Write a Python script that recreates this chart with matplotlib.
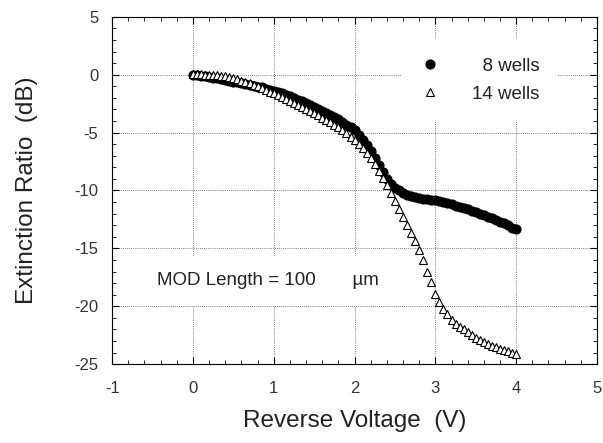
import numpy as np
import matplotlib.pyplot as plt
from matplotlib.ticker import MultipleLocator

plt.rcParams['font.family'] = ['Liberation Sans', 'DejaVu Sans']
plt.rcParams['axes.unicode_minus'] = False

# reverse voltage (V), 0.05 V steps
volts = np.round(np.arange(0, 4.0001, 0.05), 2)

# extinction ratio (dB), 8 wells (filled circles)
er_8 = [0.0, -0.05, -0.1, -0.15, -0.2, -0.25, -0.3, -0.4, -0.45, -0.55,
        -0.6, -0.65, -0.75, -0.8, -0.9, -0.95, -1.05, -1.1, -1.2, -1.3,
        -1.4, -1.5, -1.6, -1.75, -1.85, -2.0, -2.15, -2.3, -2.45, -2.6,
        -2.8, -2.95, -3.1, -3.3, -3.45, -3.65, -3.85, -4.05, -4.3, -4.55,
        -4.8, -5.2, -5.6, -6.1, -6.6, -7.2, -7.8, -8.4, -9.0, -9.4,
        -9.75, -10.0, -10.2, -10.35, -10.45, -10.55, -10.65, -10.7, -10.75, -10.8,
        -10.85, -10.95, -11.0, -11.1, -11.2, -11.3, -11.4, -11.5, -11.6, -11.75,
        -11.85, -12.0, -12.1, -12.25, -12.4, -12.55, -12.7, -12.85, -13.0, -13.2,
        -13.35]

# extinction ratio (dB), 14 wells (open triangles)
er_14 = [0.1, 0.05, 0.05, 0.0, 0.0, -0.05, -0.05, -0.1, -0.15, -0.2,
         -0.3, -0.4, -0.5, -0.6, -0.75, -0.85, -1.0, -1.15, -1.3, -1.45,
         -1.6, -1.75, -1.9, -2.1, -2.25, -2.4, -2.6, -2.75, -2.95, -3.1,
         -3.3, -3.5, -3.7, -3.9, -4.1, -4.3, -4.55, -4.8, -5.05, -5.35,
         -5.65, -6.0, -6.35, -6.75, -7.2, -7.7, -8.3, -8.9, -9.5, -10.2,
         -10.9, -11.6, -12.3, -13.0, -13.7, -14.4, -15.1, -16.0, -17.0, -17.9,
         -18.9, -19.6, -20.2, -20.7, -21.2, -21.5, -21.8, -22.0, -22.25, -22.5,
         -22.7, -22.9, -23.1, -23.25, -23.4, -23.55, -23.7, -23.8, -23.9, -24.0,
         -24.1]

fig = plt.figure(figsize=(6.03, 4.43), dpi=100)
ax = fig.add_axes([0.186, 0.178, 0.804, 0.784])

ax.plot(volts, er_8, 'o', color='black', markersize=6.3, label='  8 wells', zorder=3)
ax.plot(volts, er_14, '^', mfc='white', mec='black', mew=0.8, markersize=6,
        label='14 wells', zorder=4)

ax.set_xlim(-1, 5)
ax.set_ylim(-25, 5)
ax.xaxis.set_major_locator(MultipleLocator(1))
ax.xaxis.set_minor_locator(MultipleLocator(0.2))
ax.yaxis.set_major_locator(MultipleLocator(5))
ax.yaxis.set_minor_locator(MultipleLocator(1))
ax.tick_params(which='both', direction='in', top=True, right=True, labelsize=12,
               colors='black', labelcolor='#333333')
ax.tick_params(which='major', length=5)
ax.tick_params(which='minor', length=3)
ax.tick_params(axis='x', which='major', pad=12)
ax.tick_params(axis='y', which='major', pad=10)
ax.grid(True, which='major', linestyle=(0, (1, 1.5)), color='#555555', linewidth=0.6)
ax.set_axisbelow(True)

ax.set_xlabel('Reverse Voltage  (V)', fontsize=17.5, va='center', color='#222222')
ax.set_ylabel('Extinction Ratio  (dB)', fontsize=17.5, va='center', color='#222222')
ax.xaxis.set_label_coords(0.5, -0.164)
ax.yaxis.set_label_coords(-0.175, 0.5)

ax.text(0.93, -17.8, 'MOD Length = 100       \u00b5m', fontsize=13.5, ha='center',
        va='center', color='#222222',
        bbox=dict(facecolor='white', edgecolor='none', pad=12), zorder=2)

leg = ax.legend(loc='upper left', bbox_to_anchor=(0.597, 0.937), borderaxespad=0,
                fontsize=13.5, frameon=True, framealpha=1, facecolor='white',
                edgecolor='none', handlelength=1, handletextpad=1.74,
                labelspacing=0.6, borderpad=1.0)
for t in leg.get_texts():
    t.set_color('#222222')

fig.savefig('out.png', dpi=100)
